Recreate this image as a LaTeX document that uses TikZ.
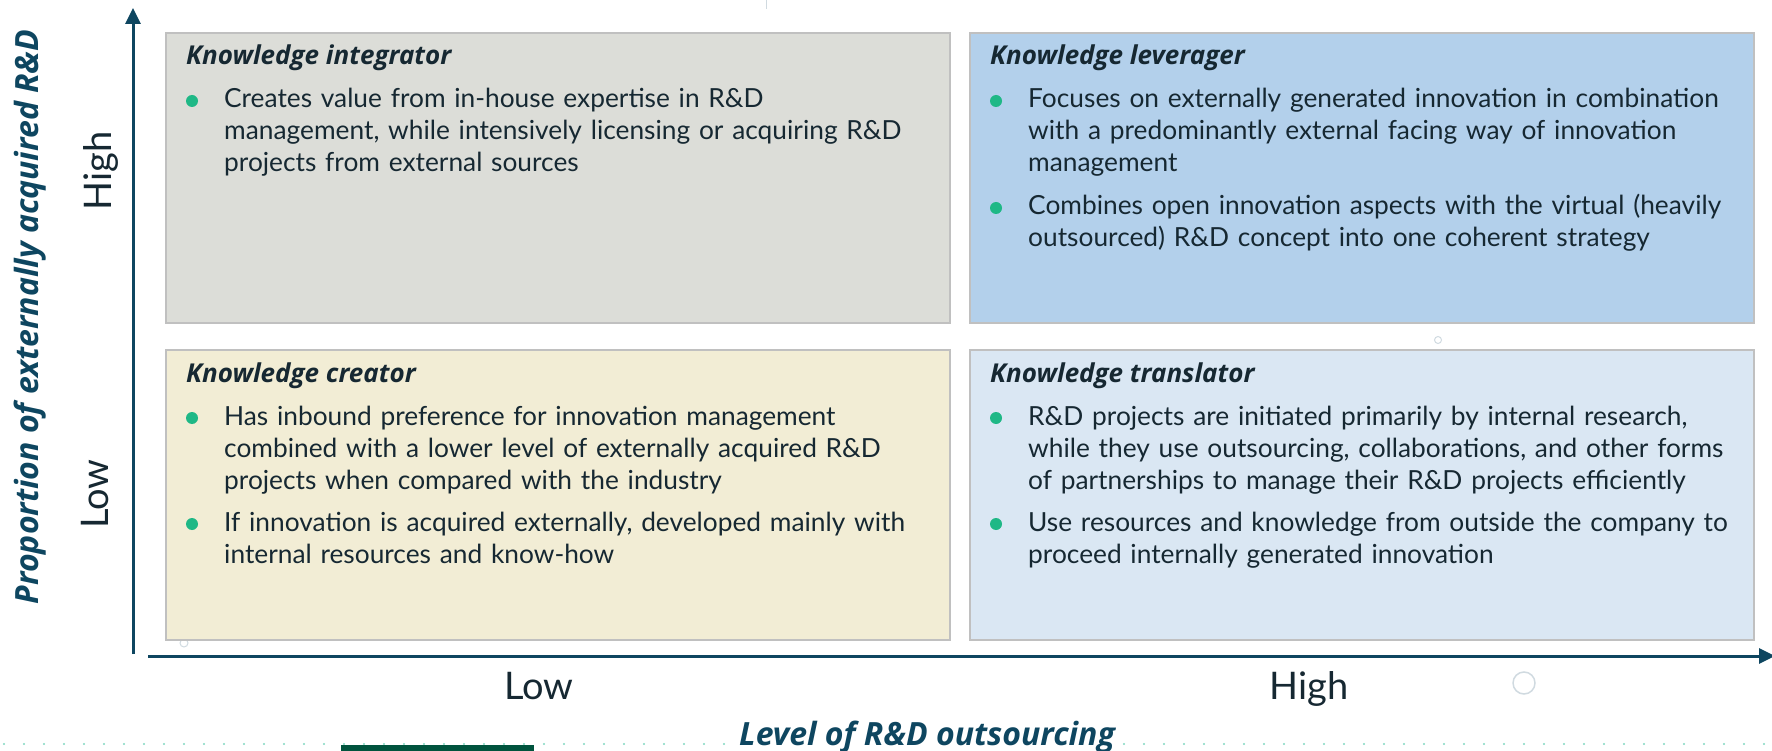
\documentclass[tikz,border=0pt]{standalone}
\usepackage{fontspec}
\setmainfont{Lato}
\newfontfamily\headfont{Open Sans}
\usetikzlibrary{arrows.meta,positioning}

\definecolor{axisblue}{RGB}{14,70,96}
\definecolor{textdark}{RGB}{22,40,50}
\definecolor{boxgray}{RGB}{192,192,192}
\definecolor{integratorfill}{RGB}{220,221,216}
\definecolor{leveragerfill}{RGB}{179,208,235}
\definecolor{creatorfill}{RGB}{242,237,213}
\definecolor{translatorfill}{RGB}{218,231,243}
\definecolor{bulletgreen}{RGB}{31,184,134}
\definecolor{dotcolor}{RGB}{128,216,192}
\definecolor{bargreen}{RGB}{0,83,61}
\definecolor{faintring}{RGB}{208,218,224}

\tikzset{
  quad/.style={draw=boxgray, line width=2pt, minimum width=784pt,
    minimum height=290pt, inner sep=0pt, anchor=north west},
  quadtitle/.style={anchor=base west, inner sep=0pt, text=textdark,
    font=\headfont\bfseries\itshape\fontsize{26}{30}\selectfont},
  itemtext/.style={anchor=base west, inner sep=0pt, text width=780pt,
    align=left, text=textdark, font=\fontsize{26.3}{32}\selectfont},
  dotmark/.style={circle, fill=bulletgreen, inner sep=0pt, minimum size=12pt},
  axis/.style={line width=3pt, draw=axisblue, -{Triangle[length=16pt,width=15pt]}},
  ticklabel/.style={anchor=base, inner sep=0pt, text=textdark,
    font=\fontsize{38}{44}\selectfont},
  axistitle/.style={anchor=base, inner sep=0pt, text=axisblue,
    font=\headfont\bfseries\itshape\fontsize{32}{36}\selectfont},
}

\begin{document}
\begin{tikzpicture}[x=1pt,y=-1pt]
\useasboundingbox (0,0) rectangle (1772,751);

% slide decoration
\foreach \k in {0,...,88}
  \fill[dotcolor] ({4+20*\k},744) circle (1.1pt);
\fill[bargreen]
  (341,745) rectangle (534,751);
\draw[faintring, line width=1.5pt]
  (1524,683) circle (11pt);
\draw[faintring, line width=1pt]
  (1438,340) circle (3.5pt);
\draw[faintring, line width=1pt]
  (184,643) circle (4pt);
\draw[faintring, line width=1pt]
  (766,0) -- (766,9);

% quadrants
\node[quad, fill=integratorfill] (q1) at (165,32) {};
\node[quad, fill=leveragerfill] (q2) at (969,32) {};
\node[quad, fill=creatorfill] (q3) at (165,349) {};
\node[quad, fill=translatorfill] (q4) at (969,349) {};

\node[quadtitle] (q1title) at ([shift={(21,33)}]q1.north west) {Knowledge integrator};
\node[dotmark] (q1dot1) at ([shift={(27,69)}]q1.north west) {};
\node[itemtext] (q1item1) at ([shift={(59,76)}]q1.north west)
  {Creates value from in-house expertise in R\&D\\
   management, while intensively licensing or acquiring R\&D\\
   projects from external sources};

\node[quadtitle] (q2title) at ([shift={(21,33)}]q2.north west) {Knowledge leverager};
\node[dotmark] (q2dot1) at ([shift={(27,69)}]q2.north west) {};
\node[itemtext] (q2item1) at ([shift={(59,76)}]q2.north west)
  {Focuses on externally generated innovation in combination\\
   with a predominantly external facing way of innovation\\
   management};
\node[dotmark] (q2dot2) at ([shift={(27,176)}]q2.north west) {};
\node[itemtext] (q2item2) at ([shift={(59,183)}]q2.north west)
  {Combines open innovation aspects with the virtual (heavily\\
   outsourced) R\&D concept into one coherent strategy};

\node[quadtitle] (q3title) at ([shift={(21,33)}]q3.north west) {Knowledge creator};
\node[dotmark] (q3dot1) at ([shift={(27,69)}]q3.north west) {};
\node[itemtext] (q3item1) at ([shift={(59,76)}]q3.north west)
  {Has inbound preference for innovation management\\
   combined with a lower level of externally acquired R\&D\\
   projects when compared with the industry};
\node[dotmark] (q3dot2) at ([shift={(27,175)}]q3.north west) {};
\node[itemtext] (q3item2) at ([shift={(59,182)}]q3.north west)
  {If innovation is acquired externally, developed mainly with\\
   internal resources and know-how};

\node[quadtitle] (q4title) at ([shift={(21,33)}]q4.north west) {Knowledge translator};
\node[dotmark] (q4dot1) at ([shift={(27,69)}]q4.north west) {};
\node[itemtext] (q4item1) at ([shift={(59,76)}]q4.north west)
  {R\&D projects are initiated primarily by internal research,\\
   while they use outsourcing, collaborations, and other forms\\
   of partnerships to manage their R\&D projects efficiently};
\node[dotmark] (q4dot2) at ([shift={(27,175)}]q4.north west) {};
\node[itemtext] (q4item2) at ([shift={(59,182)}]q4.north west)
  {Use resources and knowledge from outside the company to\\
   proceed internally generated innovation};

% axes
\coordinate (yfoot) at (133,654);
\coordinate (ytip) at (133,8);
\coordinate (xfoot) at (148,656);
\coordinate (xtip) at (1775,656);
\draw[axis]
  (yfoot) -- (ytip);
\draw[axis]
  (xfoot) -- (xtip);

\node[ticklabel] (xlow) at (539,699) {Low};
\node[ticklabel] (xhigh) at (1309,699) {High};
\node[ticklabel, rotate=90] (yhigh) at (111,171) {High};
\node[ticklabel, rotate=90] (ylow) at (108,494) {Low};

\node[axistitle, fill=white, inner xsep=6pt] (xtitle) at (927,745) {Level of R\&D outsourcing};
\node[axistitle, rotate=90] (ytitle) at (38,317) {Proportion of externally acquired R\&D};
\end{tikzpicture}
\end{document}
